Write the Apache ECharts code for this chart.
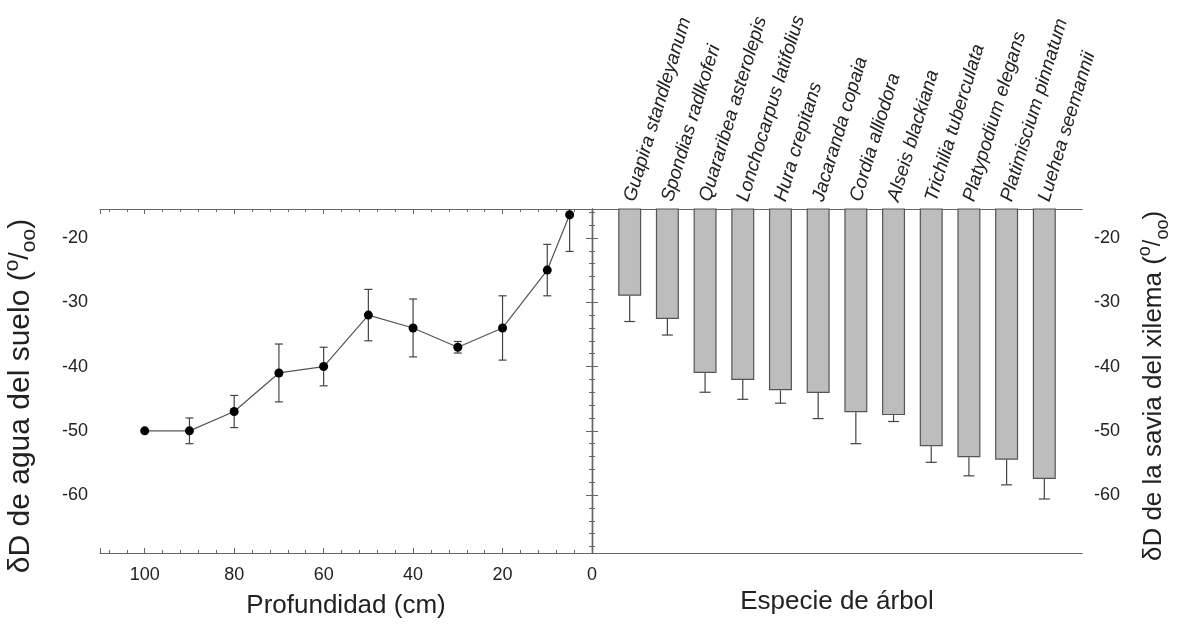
<!DOCTYPE html>
<html>
<head>
<meta charset="utf-8">
<script src="https://cdn.jsdelivr.net/npm/echarts@6/dist/echarts.min.js"></script>
<style>
  html, body { margin: 0; padding: 0; background: #fff; }
  #chart { width: 1182px; height: 630px; }
</style>
</head>
<body>
<div id="chart"></div>
<script>
// ---- Data ----
const depth = [100, 90, 80, 70, 60, 50, 40, 30, 20, 10, 5];
const soilD = [-50, -50, -47, -41, -40, -32, -34, -37, -34, -25, -16.4];
const soilErr = [0, 2, 2.5, 4.5, 3, 4, 4.5, 0.9, 5, 4, 5.7];

const species = [
  'Guapira standleyanum', 'Spondias radlkoferi', 'Quararibea asterolepis',
  'Lonchocarpus latifolius', 'Hura crepitans', 'Jacaranda copaia',
  'Cordia alliodora', 'Alseis blackiana', 'Trichilia tuberculata',
  'Platypodium elegans', 'Platimiscium pinnatum', 'Luehea seemannii'
];
const xylemD = [-29, -32.6, -41, -42.1, -43.7, -44.1, -47.1, -47.55, -52.4, -54.1, -54.5, -57.5];
const xylemErr = [4, 2.5, 3, 3, 2, 4, 4.9, 1, 2.5, 2.9, 3.9, 3.1];

const depthTicks = { min: 0, max: 110, interval: 20 };
const dRange = { min: -69, max: -15.5 };

// ---- Styles ----
const FONT = 'Liberation Sans, Arial, sans-serif';
const TXT = '#222';
const AX = '#666';
const axisLine = { show: true, lineStyle: { color: AX, width: 1.2 } };

const soilPts = depth.map((d, i) => [d, soilD[i]]);
const soilErrData = depth.map((d, i) => [d, soilD[i], soilErr[i]]);
const barPts = species.map((s, i) => [i + 1, xylemD[i]]);
const barErrData = species.map((s, i) => [i + 1, xylemD[i], xylemErr[i]]);

function tenLabel(v) { return (Math.abs(v % 10) < 1e-9) ? String(v) : ''; }
function twentyLabel(v) { return (Math.abs(v % 20) < 1e-9 && v <= 100) ? String(v) : ''; }

function perMilRich(n, small, slash, lh) {
  return {
    n: { fontSize: n, fontFamily: FONT, color: TXT, lineHeight: lh },
    sup: { fontSize: small, fontFamily: FONT, color: TXT, verticalAlign: 'top', lineHeight: lh },
    sl: { fontSize: slash, fontFamily: FONT, color: TXT, lineHeight: lh },
    sub: { fontSize: small, fontFamily: FONT, color: TXT, verticalAlign: 'bottom', lineHeight: lh }
  };
}

function yAx(grid, pos, opts) {
  return Object.assign({
    type: 'value', gridIndex: grid, position: pos,
    min: dRange.min, max: dRange.max,
    axisLine: axisLine,
    axisTick: { show: true, inside: true, length: 6, lineStyle: { color: AX } },
    minorTick: { show: true, splitNumber: 5, length: 3, lineStyle: { color: AX } },
    splitLine: { show: false },
    axisLabel: { show: false }
  }, opts || {});
}

const errStyle = { stroke: '#444', lineWidth: 1.2 };

const option = {
  backgroundColor: '#fff',
  animation: false,
  grid: [
    { left: 100, top: 209, width: 492, height: 344, outerBoundsMode: 'none', containLabel: false },
    { left: 592, top: 209, width: 490, height: 344, outerBoundsMode: 'none', containLabel: false }
  ],
  xAxis: [
    {
      type: 'value', gridIndex: 0, position: 'bottom', inverse: true,
      min: depthTicks.min, max: depthTicks.max, interval: depthTicks.interval,
      axisLine: axisLine,
      axisTick: { show: true, inside: true, length: 5, lineStyle: { color: AX } },
      minorTick: { show: true, splitNumber: 5, length: 3, lineStyle: { color: AX } },
      splitLine: { show: false },
      axisLabel: { fontSize: 18, fontFamily: FONT, color: TXT, margin: 13, formatter: twentyLabel },
      name: 'Profundidad (cm)', nameLocation: 'middle', nameGap: 40,
      nameTextStyle: { fontSize: 26, fontFamily: FONT, color: TXT }
    },
    {
      type: 'value', gridIndex: 0, position: 'top', inverse: true,
      min: depthTicks.min, max: depthTicks.max, interval: depthTicks.interval,
      axisLine: axisLine,
      axisTick: { show: true, inside: true, length: 5, lineStyle: { color: AX } },
      minorTick: { show: true, splitNumber: 5, length: 3, lineStyle: { color: AX } },
      splitLine: { show: false },
      axisLabel: { show: false }
    },
    {
      type: 'value', gridIndex: 1, position: 'bottom',
      min: 0, max: 13, interval: 1,
      axisLine: axisLine,
      axisTick: { show: false }, splitLine: { show: false },
      axisLabel: { show: false },
      name: 'Especie de árbol', nameLocation: 'middle', nameGap: 36,
      nameTextStyle: { fontSize: 26, fontFamily: FONT, color: TXT }
    },
    {
      type: 'value', gridIndex: 1, position: 'top',
      min: 0, max: 13, interval: 1,
      axisLine: axisLine,
      axisTick: { show: false }, splitLine: { show: false },
      axisLabel: {
        show: true, rotate: -73, margin: 8,
        fontSize: 19, fontStyle: 'italic', fontFamily: FONT, color: TXT,
        align: 'left', verticalAlign: 'middle', padding: [0, 0, 5, 0],
        formatter: function (v) {
          return (Number.isInteger(v) && v >= 1 && v <= species.length) ? species[v - 1] : '';
        }
      }
    }
  ],
  yAxis: [
    yAx(0, 'left', {
      axisLabel: { show: true, fontSize: 18, fontFamily: FONT, color: TXT, margin: 12, formatter: tenLabel,
                   showMinLabel: false, showMaxLabel: false },
      name: '{n|δD de agua del suelo (}{sup|o}{sl|/}{sub|oo}{n|)}',
      nameLocation: 'middle', nameRotate: 90, nameGap: 60,
      nameTextStyle: { rich: perMilRich(30, 21, 27, 38), padding: [0, 30, 0, 0] }
    }),
    yAx(0, 'right'),
    yAx(1, 'left'),
    yAx(1, 'right', {
      axisLabel: { show: true, fontSize: 18, fontFamily: FONT, color: TXT, margin: 12, formatter: tenLabel,
                   showMinLabel: false, showMaxLabel: false },
      name: '{n|δD de la savia del xilema (}{sup|o}{sl|/}{sub|oo}{n|)}',
      nameLocation: 'middle', nameRotate: 90, nameGap: 54,
      nameTextStyle: { rich: perMilRich(26, 18, 23.5, 36), padding: [0, 10, 0, 0] }
    })
  ],
  series: [
    {
      type: 'custom', xAxisIndex: 0, yAxisIndex: 0, clip: true, z: 2,
      data: soilErrData,
      renderItem: function (params, api) {
        const x = api.value(0), y = api.value(1), e = api.value(2);
        if (!e) return null;
        const t = api.coord([x, y + e]), b = api.coord([x, y - e]);
        const hw = 4;
        return { type: 'group', children: [
          { type: 'line', shape: { x1: t[0], y1: t[1], x2: b[0], y2: b[1] }, style: errStyle },
          { type: 'line', shape: { x1: t[0] - hw, y1: t[1], x2: t[0] + hw, y2: t[1] }, style: errStyle },
          { type: 'line', shape: { x1: b[0] - hw, y1: b[1], x2: b[0] + hw, y2: b[1] }, style: errStyle }
        ] };
      }
    },
    {
      type: 'line', xAxisIndex: 0, yAxisIndex: 0, z: 3,
      data: soilPts,
      symbol: 'circle', symbolSize: 9,
      itemStyle: { color: '#000' },
      lineStyle: { color: '#555', width: 1.2 }
    },
    {
      type: 'bar', xAxisIndex: 2, yAxisIndex: 3, clip: true, z: 2,
      data: barPts, barWidth: 23,
      itemStyle: { color: '#bdbdbd', borderColor: '#555', borderWidth: 1.2 }
    },
    {
      type: 'custom', xAxisIndex: 2, yAxisIndex: 3, clip: true, z: 3,
      data: barErrData,
      renderItem: function (params, api) {
        const x = api.value(0), y = api.value(1), e = api.value(2);
        const t = api.coord([x, y]), b = api.coord([x, y - e]);
        const hw = 5.5;
        return { type: 'group', children: [
          { type: 'line', shape: { x1: t[0], y1: t[1], x2: b[0], y2: b[1] }, style: errStyle },
          { type: 'line', shape: { x1: b[0] - hw, y1: b[1], x2: b[0] + hw, y2: b[1] }, style: errStyle }
        ] };
      }
    }
  ]
};

const chart = echarts.init(document.getElementById('chart'), null, { renderer: 'canvas' });
chart.setOption(option);
</script>
</body>
</html>
